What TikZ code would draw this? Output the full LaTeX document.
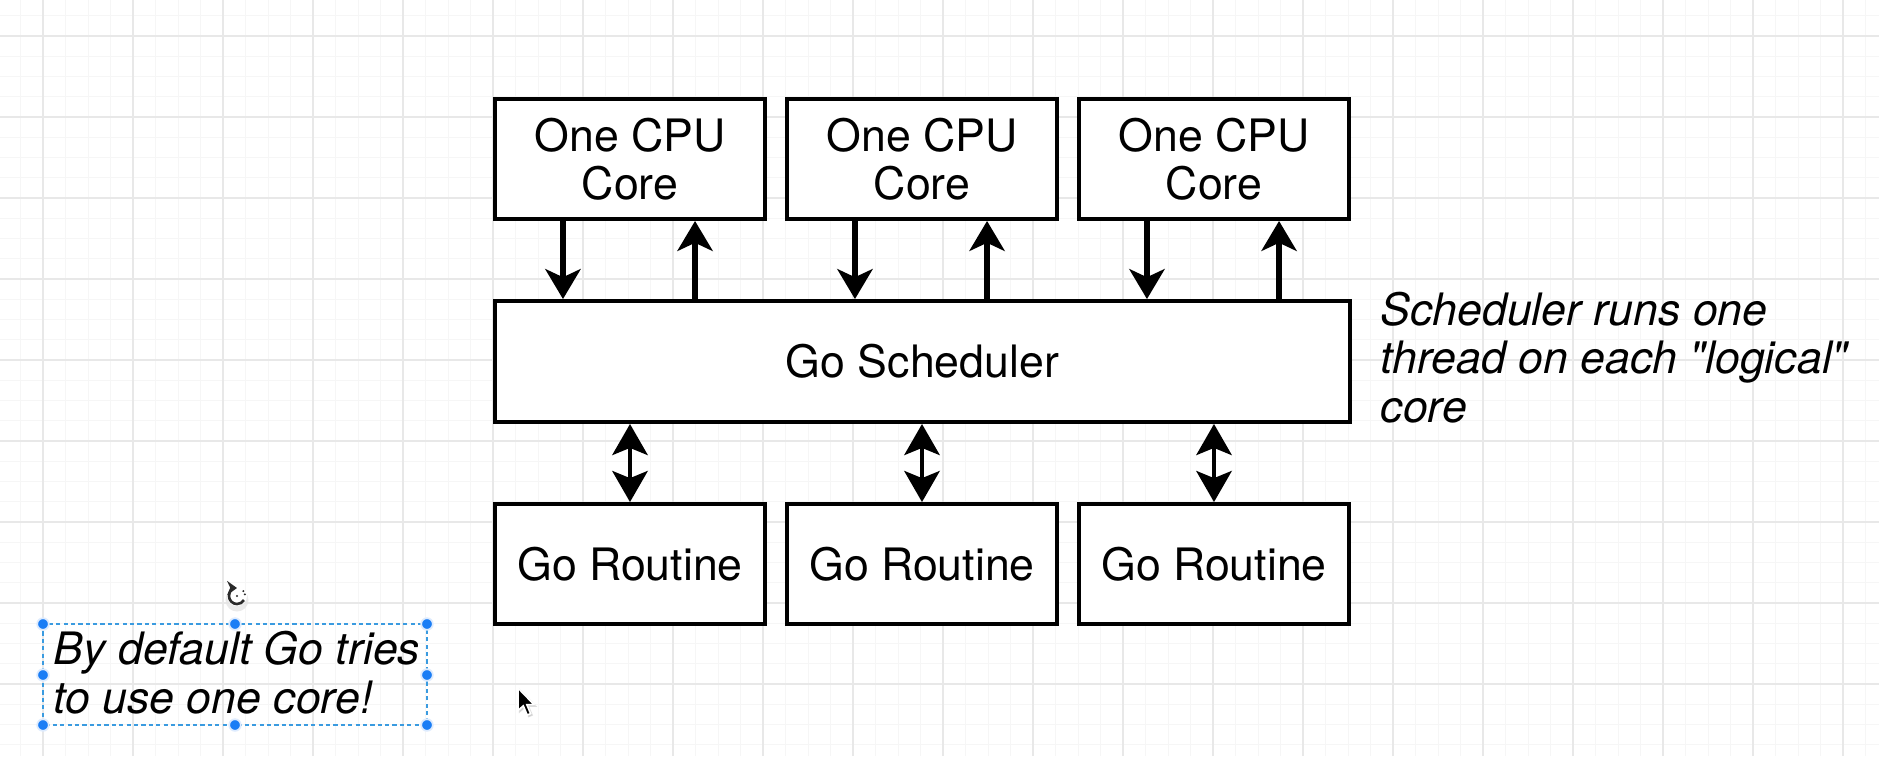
\documentclass[tikz,border=0pt]{standalone}
\usepackage{fontspec}
\setmainfont{TeX Gyre Heros}[Ligatures=TeXOff]
\usetikzlibrary{arrows.meta}
\definecolor{gridmajor}{HTML}{E8E8E8}
\definecolor{gridminor}{HTML}{F6F6F6}
\definecolor{selblue}{HTML}{3A9BE0}
\definecolor{handleblue}{HTML}{1A7DF5}
\definecolor{iconfg}{HTML}{2A2A2A}

\begin{document}
\begin{tikzpicture}[x=0.01cm,y=-0.01cm,
  every node/.style={font=\fontsize{12.7pt}{13.75pt}\selectfont},
  box/.style={draw=black, line width=1.1pt, fill=white, minimum width=2.7cm,
    minimum height=1.2cm, inner sep=0pt, align=center},
  flow/.style={line width=1.5pt, -{Stealth[length=8.5pt,width=10pt,inset=2.3pt]}},
  both/.style={line width=1.4pt,
    {Stealth[length=8.8pt,width=10pt,inset=2pt]}-{Stealth[length=8.8pt,width=10pt,inset=2pt]}},
  note/.style={font=\fontsize{12.7pt}{13.75pt}\selectfont\itshape, align=left,
    inner sep=0pt, anchor=base west},
  minorline/.style={draw=gridminor, line width=0.28pt},
  majorline/.style={draw=gridmajor, line width=0.45pt},
  handle/.style={fill=handleblue, draw=white!85!handleblue, line width=0.5pt},
]
% canvas
\useasboundingbox (0,0) rectangle (1879,756);
\fill[white] (0,0) rectangle (1879,756);

% background grid
\foreach \k in {0,...,84} \draw[minorline] ({-2+22.5*\k},0) -- ({-2+22.5*\k},756);
\foreach \k in {0,...,38} \draw[minorline] (0,{-4.5+20.25*\k}) -- (1879,{-4.5+20.25*\k});
\foreach \k in {0,...,20} \draw[majorline] ({43+90*\k},0) -- ({43+90*\k},756);
\foreach \k in {0,...,9} \draw[majorline] (0,{36+81*\k}) -- (1879,{36+81*\k});

% CPU cores
\node[box] (cpu1) at (630,159) {One CPU\\Core};
\node[box] (cpu2) at (922,159) {One CPU\\Core};
\node[box] (cpu3) at (1214,159) {One CPU\\Core};

% scheduler
\node[box, minimum width=8.55cm, minimum height=1.21cm] (sched) at (922.5,361.5) {Go Scheduler};

% goroutines
\node[box] (gr1) at (630,564) {Go Routine};
\node[box] (gr2) at (922,564) {Go Routine};
\node[box] (gr3) at (1214,564) {Go Routine};

% core <-> scheduler links
\foreach \n in {1,2,3} {
  \coordinate (down\n) at ([xshift=-0.67cm]cpu\n.south);
  \coordinate (up\n) at ([xshift=0.65cm]cpu\n.south);
  \draw[flow] (down\n) -- (down\n |- sched.north);
  \draw[flow] (up\n |- sched.north) -- (up\n);
}

% scheduler <-> goroutine links
\foreach \n in {1,2,3} {
  \draw[both] (gr\n.north |- sched.south) -- (gr\n.north);
}

% notes (the base anchor sits on the last line)
\node[note] (schednote) at (1380,422) {Scheduler runs one\\thread on each "logical"\\core};
\node[note] (defaultnote) at (53,713) {By default Go tries\\to use one core!};

% selection frame around the lower note
\draw[selblue, line width=0.37pt, dash pattern=on 1.2pt off 0.9pt] (43,624) rectangle (427,725);
\foreach \p in {(43,624),(235,624),(427,624),(43,675),(427,675),(43,725),(235,725),(427,725)}
  \filldraw[handle] \p circle (5.8);

% rotation handle
\fill[black!10, opacity=0.8] (237,600) circle (11.5);
\fill[white] (237,596) circle (10);
\draw[iconfg, line width=0.75pt, {Stealth[length=2.8pt,width=4pt]}-]
  (237,596) ++(-90:8) arc[start angle=-90, end angle=-330, radius=8];
\fill[iconfg] (237,596) ++(-38:8) circle (1.1);
\fill[iconfg] (237,596) ++(-12:8) circle (1.1);
\fill[iconfg] (237,596) circle (1.1);

% mouse pointer
\filldraw[fill=black!25, draw=black!25, opacity=0.5] (519.5,689.5) -- ++(0,22.4) -- ++(5.3,-4.6) -- ++(3.9,9.2) -- ++(3.4,-1.4) -- ++(-3.8,-9) -- ++(7.2,0) -- cycle;
\filldraw[fill=black, draw=white, line width=0.45pt] (518,688) -- ++(0,22.4) -- ++(5.3,-4.6) -- ++(3.9,9.2) -- ++(3.4,-1.4) -- ++(-3.8,-9) -- ++(7.2,0) -- cycle;
\end{tikzpicture}
\end{document}
